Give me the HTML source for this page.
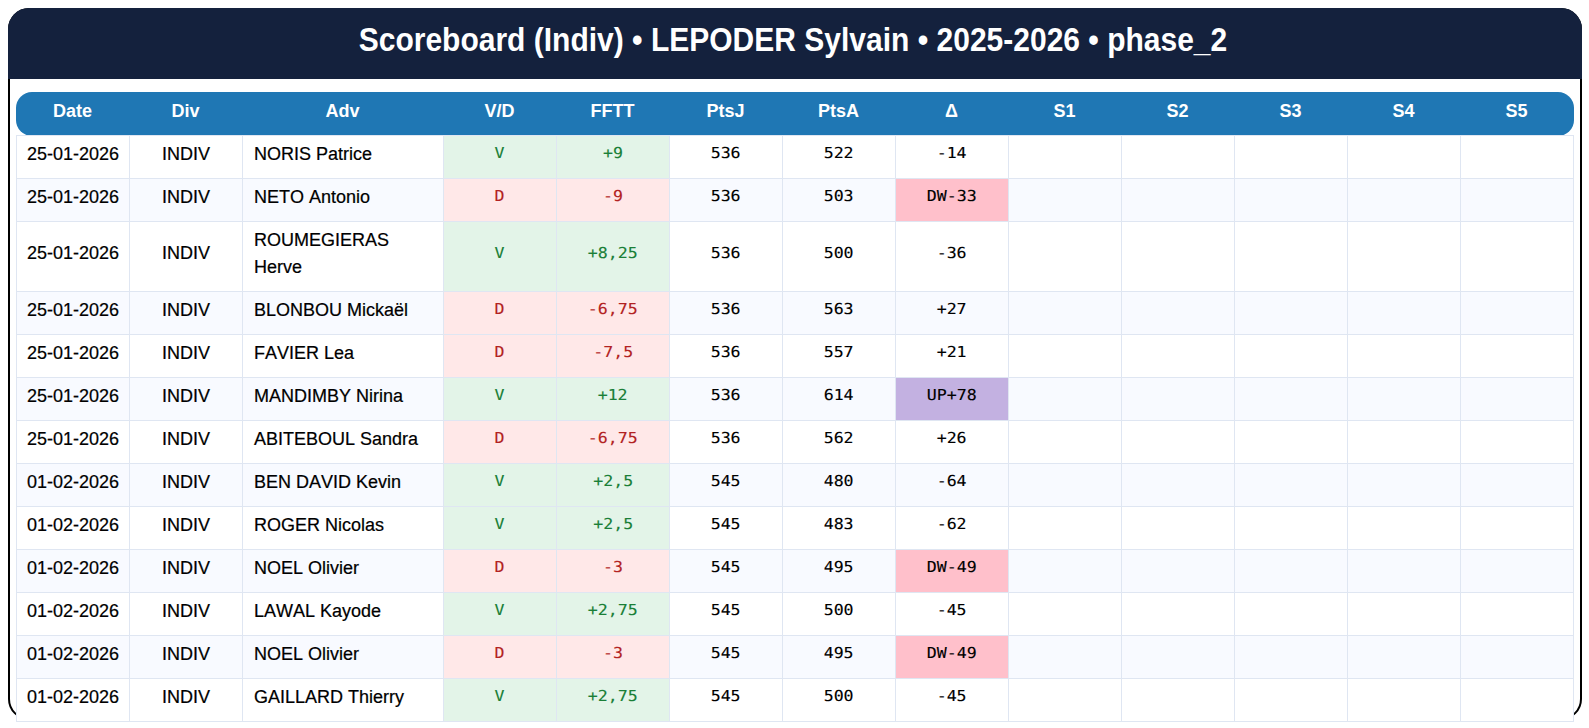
<!DOCTYPE html><html lang="fr"><head><meta charset="utf-8"><title>Scoreboard</title><style>
html,body{margin:0;padding:0;background:#fff;}
body{width:1589px;height:728px;overflow:hidden;position:relative;font-family:"Liberation Sans",sans-serif;font-size:18px;color:#000;font-kerning:none;}
.card{position:absolute;left:8px;top:8px;width:1570px;height:708px;border:2px solid #000;border-radius:21px;background:#fff;}
.title{position:absolute;left:8px;top:8px;width:1570px;padding-right:4px;height:71px;background:#14213d;border-radius:21px 21px 0 0;color:#fff;font-weight:700;font-size:30px;line-height:62px;text-align:center;}
.title span{display:inline-block;transform:translateY(2.6px) scaleY(1.08);transform-origin:50% 80%;}
table{position:absolute;left:16px;top:135px;border-collapse:collapse;table-layout:fixed;width:1558px;}
col.c{width:113px;}col.adv{width:201px;}
.hdr{position:absolute;left:16px;top:92px;width:1558px;height:44px;background:#1f77b4;border-radius:16px;display:flex;}
.h{width:113px;color:#fff;font-weight:700;font-size:18px;line-height:39px;height:44px;text-align:center;}
.h.adv{width:201px;}
tbody tr{height:43px;}
td{-webkit-text-stroke:0.2px currentColor;border:1px solid #dfe6f2;padding:0 0 6px;text-align:center;background:#fff;line-height:27px;}
tbody tr:nth-child(even) td{background:#f8faff;}
td.adv{text-align:left;padding:5px 11px 10px;}
td.m{-webkit-text-stroke:0.12px currentColor;font-family:"DejaVu Sans Mono",monospace;font-size:15.1px;text-rendering:geometricPrecision;padding-bottom:8px;}
tbody tr:nth-child(3) td.m{padding-bottom:6px;}
td.m span{display:inline-block;transform:scaleX(1.099);}
td.win{background:#e3f4e8 !important;color:#1a7f37;}
td.loss{background:#ffe8e8 !important;color:#b22222;}
td.dw{background:#ffc0cb !important;}
td.up{background:#c3b1e1 !important;}

</style></head><body>
<div class="card"></div>
<div class="title"><span>Scoreboard (Indiv) • LEPODER Sylvain • 2025-2026 • phase_2</span></div>
<div class="hdr"><div class="h">Date</div><div class="h">Div</div><div class="h adv">Adv</div><div class="h">V/D</div><div class="h">FFTT</div><div class="h">PtsJ</div><div class="h">PtsA</div><div class="h">Δ</div><div class="h">S1</div><div class="h">S2</div><div class="h">S3</div><div class="h">S4</div><div class="h">S5</div></div>
<table><colgroup><col class="c"><col class="c"><col class="adv"><col class="c"><col class="c"><col class="c"><col class="c"><col class="c"><col class="c"><col class="c"><col class="c"><col class="c"><col class="c"></colgroup><tbody>
<tr><td class="date">25-01-2026</td><td class="div">INDIV</td><td class="adv">NORIS Patrice</td><td class="m win"><span>V</span></td><td class="m win"><span>+9</span></td><td class="m"><span>536</span></td><td class="m"><span>522</span></td><td class="m"><span>-14</span></td><td></td><td></td><td></td><td></td><td></td></tr>
<tr><td class="date">25-01-2026</td><td class="div">INDIV</td><td class="adv">NETO Antonio</td><td class="m loss"><span>D</span></td><td class="m loss"><span>-9</span></td><td class="m"><span>536</span></td><td class="m"><span>503</span></td><td class="m dw"><span>DW-33</span></td><td></td><td></td><td></td><td></td><td></td></tr>
<tr><td class="date">25-01-2026</td><td class="div">INDIV</td><td class="adv">ROUMEGIERAS<br>Herve</td><td class="m win"><span>V</span></td><td class="m win"><span>+8,25</span></td><td class="m"><span>536</span></td><td class="m"><span>500</span></td><td class="m"><span>-36</span></td><td></td><td></td><td></td><td></td><td></td></tr>
<tr><td class="date">25-01-2026</td><td class="div">INDIV</td><td class="adv">BLONBOU Mickaël</td><td class="m loss"><span>D</span></td><td class="m loss"><span>-6,75</span></td><td class="m"><span>536</span></td><td class="m"><span>563</span></td><td class="m"><span>+27</span></td><td></td><td></td><td></td><td></td><td></td></tr>
<tr><td class="date">25-01-2026</td><td class="div">INDIV</td><td class="adv">FAVIER Lea</td><td class="m loss"><span>D</span></td><td class="m loss"><span>-7,5</span></td><td class="m"><span>536</span></td><td class="m"><span>557</span></td><td class="m"><span>+21</span></td><td></td><td></td><td></td><td></td><td></td></tr>
<tr><td class="date">25-01-2026</td><td class="div">INDIV</td><td class="adv">MANDIMBY Nirina</td><td class="m win"><span>V</span></td><td class="m win"><span>+12</span></td><td class="m"><span>536</span></td><td class="m"><span>614</span></td><td class="m up"><span>UP+78</span></td><td></td><td></td><td></td><td></td><td></td></tr>
<tr><td class="date">25-01-2026</td><td class="div">INDIV</td><td class="adv">ABITEBOUL Sandra</td><td class="m loss"><span>D</span></td><td class="m loss"><span>-6,75</span></td><td class="m"><span>536</span></td><td class="m"><span>562</span></td><td class="m"><span>+26</span></td><td></td><td></td><td></td><td></td><td></td></tr>
<tr><td class="date">01-02-2026</td><td class="div">INDIV</td><td class="adv">BEN DAVID Kevin</td><td class="m win"><span>V</span></td><td class="m win"><span>+2,5</span></td><td class="m"><span>545</span></td><td class="m"><span>480</span></td><td class="m"><span>-64</span></td><td></td><td></td><td></td><td></td><td></td></tr>
<tr><td class="date">01-02-2026</td><td class="div">INDIV</td><td class="adv">ROGER Nicolas</td><td class="m win"><span>V</span></td><td class="m win"><span>+2,5</span></td><td class="m"><span>545</span></td><td class="m"><span>483</span></td><td class="m"><span>-62</span></td><td></td><td></td><td></td><td></td><td></td></tr>
<tr><td class="date">01-02-2026</td><td class="div">INDIV</td><td class="adv">NOEL Olivier</td><td class="m loss"><span>D</span></td><td class="m loss"><span>-3</span></td><td class="m"><span>545</span></td><td class="m"><span>495</span></td><td class="m dw"><span>DW-49</span></td><td></td><td></td><td></td><td></td><td></td></tr>
<tr><td class="date">01-02-2026</td><td class="div">INDIV</td><td class="adv">LAWAL Kayode</td><td class="m win"><span>V</span></td><td class="m win"><span>+2,75</span></td><td class="m"><span>545</span></td><td class="m"><span>500</span></td><td class="m"><span>-45</span></td><td></td><td></td><td></td><td></td><td></td></tr>
<tr><td class="date">01-02-2026</td><td class="div">INDIV</td><td class="adv">NOEL Olivier</td><td class="m loss"><span>D</span></td><td class="m loss"><span>-3</span></td><td class="m"><span>545</span></td><td class="m"><span>495</span></td><td class="m dw"><span>DW-49</span></td><td></td><td></td><td></td><td></td><td></td></tr>
<tr><td class="date">01-02-2026</td><td class="div">INDIV</td><td class="adv">GAILLARD Thierry</td><td class="m win"><span>V</span></td><td class="m win"><span>+2,75</span></td><td class="m"><span>545</span></td><td class="m"><span>500</span></td><td class="m"><span>-45</span></td><td></td><td></td><td></td><td></td><td></td></tr>
</tbody></table></body></html>
